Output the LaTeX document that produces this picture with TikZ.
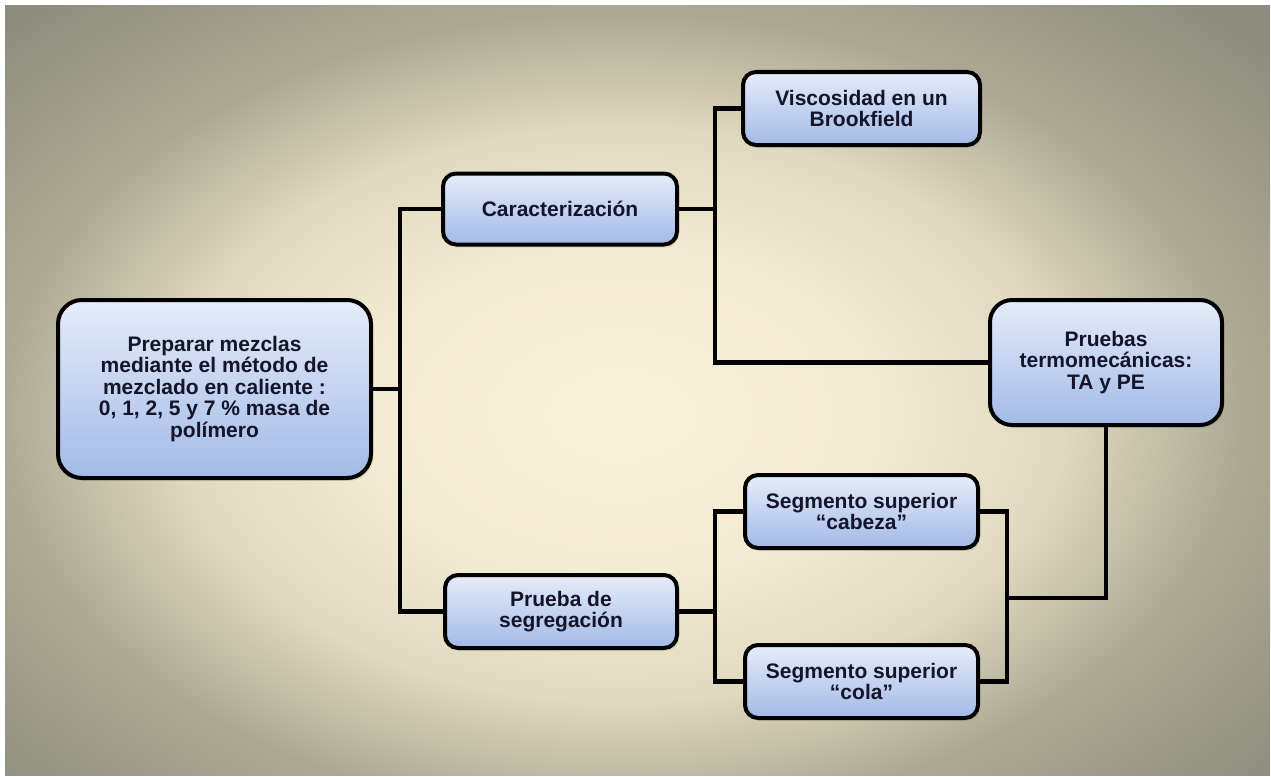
\documentclass[tikz,border=0pt]{standalone}
\usepackage{fontspec}
\setmainfont{Liberation Sans}
\usetikzlibrary{shadows}

% background glow colours
\definecolor{bgA}{HTML}{F9F0D9}
\definecolor{bgA2}{HTML}{F3EBD1}
\definecolor{bgB}{HTML}{E0D9BF}
\definecolor{bgC}{HTML}{ACA893}
\definecolor{bgD}{HTML}{8F8D7E}
% box colours
\definecolor{boxtop}{HTML}{E6ECFA}
\definecolor{boxbot}{HTML}{A2BAE6}
\definecolor{ink}{HTML}{14142A}

\pgfdeclareradialshading{bgglow}{\pgfpoint{0bp}{0bp}}{%
  color(0bp)=(bgA); color(10bp)=(bgA2); color(17bp)=(bgB);
  color(24bp)=(bgC); color(33bp)=(bgD); color(50bp)=(bgD)}

\tikzset{
  stepbox/.style={draw=black, line width=4pt, rounded corners=13pt,
    top color=boxtop, bottom color=boxbot, text=ink, align=center,
    font=\bfseries\fontsize{21}{21.5}\selectfont, inner sep=0pt,
    drop shadow={opacity=0.18, shadow xshift=2pt, shadow yshift=-3pt}},
  link/.style={draw=black, line width=4.4pt, line cap=rect}
}

\begin{document}
\begin{tikzpicture}[x=1pt, y=-1pt]
  % page and background
  \fill[white] (0,0) rectangle (1271,776);
  \useasboundingbox (0,0) rectangle (1271,776);
  \begin{scope}
    \clip (5,6) rectangle (1270,775);
    \shade[shading=bgglow] (-30,-5) rectangle (1270,835);
  \end{scope}

  % junction points
  \coordinate (j1) at (400,389);
  \coordinate (j2) at (715,209);
  \coordinate (j3) at (715,611.5);
  \coordinate (j4) at (1007,598);

  % boxes
  \node[stepbox, minimum width=313pt, minimum height=178pt, rounded corners=24pt]
    (main) at (214.5,389)
    {Preparar mezclas\\mediante el método de\\mezclado en caliente :\\0, 1, 2, 5 y 7 \% masa de\\polímero};
  \node[stepbox, minimum width=234pt, minimum height=71pt] (carac) at (560,209)
    {Caracterización};
  \node[stepbox, minimum width=232pt, minimum height=73pt] (segr) at (561,611.5)
    {Prueba de\\segregación};
  \node[stepbox, minimum width=237pt, minimum height=73pt] (visc) at (861.5,108.5)
    {Viscosidad en un\\Brookfield};
  \node[stepbox, minimum width=232pt, minimum height=125pt, rounded corners=22pt]
    (termo) at (1106,362.5)
    {Pruebas\\termomecánicas:\\TA y PE};
  \node[stepbox, minimum width=233pt, minimum height=73pt] (cab) at (861.5,511.5)
    {Segmento superior\\“cabeza”};
  \node[stepbox, minimum width=233pt, minimum height=73pt] (cola) at (861.5,681.5)
    {Segmento superior\\“cola”};

  % connectors
  \draw[link] (main.east) -- (j1);
  \draw[link] (carac.west) -| (j1) |- (segr.west);
  \draw[link] (carac.east) -- (j2);
  \draw[link] (visc.west) -| (j2) |- (termo.west);
  \draw[link] (segr.east) -- (j3);
  \draw[link] (cab.west) -| (j3) |- (cola.west);
  \draw[link] (cab.east) -| (j4) |- (cola.east);
  \draw[link] (j4) -| (termo.south);
\end{tikzpicture}
\end{document}
